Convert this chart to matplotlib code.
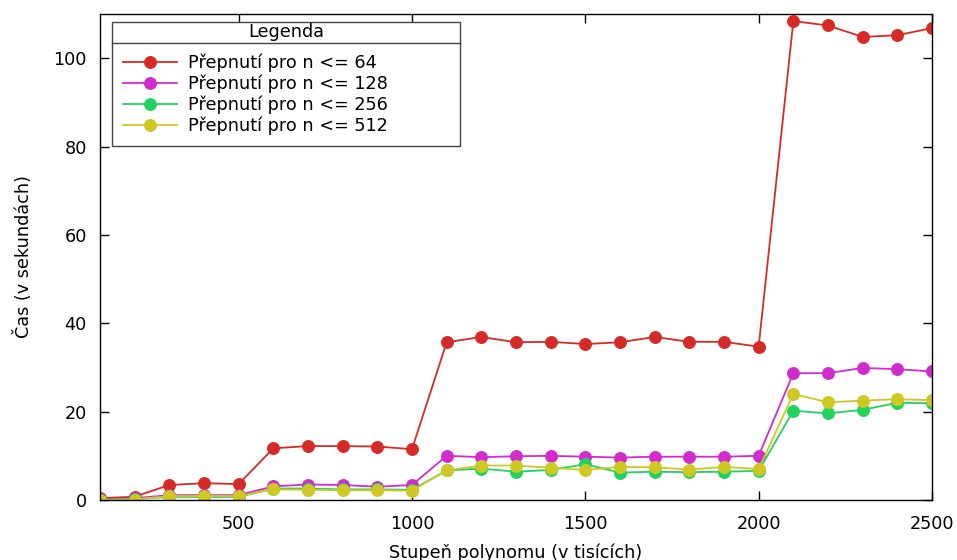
import matplotlib
matplotlib.use("Agg")
import matplotlib.pyplot as plt
from matplotlib.lines import Line2D
from matplotlib.patches import Rectangle

# Degree of the polynomial (thousands)
stupen = [100, 200, 300, 400, 500, 600, 700, 800, 900, 1000,
          1100, 1200, 1300, 1400, 1500, 1600, 1700, 1800, 1900, 2000,
          2100, 2200, 2300, 2400, 2500]

# Runtime in seconds for each switch threshold
cas_64 = [0.4, 0.75, 3.4, 3.8, 3.6, 11.7, 12.2, 12.2, 12.1, 11.5,
          35.7, 36.9, 35.7, 35.8, 35.3, 35.7, 36.9, 35.8, 35.8, 34.7,
          108.4, 107.4, 104.8, 105.2, 106.8]
cas_128 = [0.15, 0.4, 1.1, 1.1, 1.1, 3.1, 3.5, 3.4, 3.0, 3.4,
           10.0, 9.7, 9.9, 10.0, 9.8, 9.6, 9.8, 9.8, 9.8, 10.0,
           28.7, 28.7, 29.9, 29.6, 29.1]
cas_256 = [0.05, 0.2, 0.7, 0.7, 0.7, 2.6, 2.6, 2.4, 2.4, 2.3,
           6.7, 7.1, 6.4, 6.8, 8.1, 6.2, 6.4, 6.3, 6.4, 6.6,
           20.2, 19.6, 20.4, 22.0, 21.9]
cas_512 = [0.0, 0.1, 0.9, 0.9, 0.9, 2.4, 2.3, 2.2, 2.2, 2.1,
           6.7, 7.8, 7.8, 7.3, 6.8, 7.5, 7.4, 6.9, 7.5, 7.0,
           24.0, 22.1, 22.5, 22.8, 22.6]

popisky = ["Přepnutí pro n <= 64", "Přepnutí pro n <= 128",
           "Přepnutí pro n <= 256", "Přepnutí pro n <= 512"]
barvy = ["#d62a26", "#d22bcc", "#22d25e", "#cfc822"]

x_ticks = [500, 1000, 1500, 2000, 2500]
y_ticks = [0, 20, 40, 60, 80, 100]

FS = 12.7
plt.rcParams["font.family"] = ["DejaVu Sans"]
plt.rcParams["font.size"] = FS

W, H = 957, 560
fig = plt.figure(figsize=(W / 100, H / 100), dpi=100)
AX_L, AX_R, AX_T, AX_B = 100, 932, 14, 500
ax = fig.add_axes([AX_L / W, 1 - AX_B / H, (AX_R - AX_L) / W, (AX_B - AX_T) / H])


def ax_frac(px, py):
    """Pixel position (from top-left) to axes fraction."""
    return (px - AX_L) / (AX_R - AX_L), (AX_B - py) / (AX_B - AX_T)


for serie, popisek, barva in zip([cas_64, cas_128, cas_256, cas_512], popisky, barvy):
    ax.plot(stupen, serie, color=barva, lw=1.3, marker="o", ms=8.3,
            mec=barva, mfc=barva, label=popisek)

ax.set_xlim(100, 2500)
ax.set_ylim(0, 110)
ax.set_xticks(x_ticks)
ax.set_yticks(y_ticks)
ax.tick_params(direction="in", length=6.5, width=1, top=True, right=True,
               labelsize=FS)
ax.tick_params(axis="x", pad=10.5)
ax.tick_params(axis="y", pad=9.5)
for s in ax.spines.values():
    s.set_linewidth(1.0)
    s.set_color("black")

ax.set_xlabel("Stupeň polynomu (v tisících)", fontsize=FS, labelpad=7.5)
ax.set_ylabel("Čas (v sekundách)", fontsize=FS, labelpad=15)

# legend box with a title row separated by a rule
bx0, by0 = ax_frac(112, 146)
bx1, by1 = ax_frac(460, 22)
ax.add_patch(Rectangle((bx0, by0), bx1 - bx0, by1 - by0, transform=ax.transAxes,
                       facecolor="white", edgecolor="#444444", lw=1.0, zorder=5))
sx0, sy = ax_frac(112, 43)
ax.add_line(Line2D([bx0, bx1], [sy, sy], transform=ax.transAxes,
                   color="#444444", lw=1.0, zorder=6))

pad_px = 0.6 * FS * 100 / 72
lx0, ly_top = ax_frac(112, 22.8 - pad_px)
leg = ax.legend(title="Legenda", loc="upper left",
                bbox_to_anchor=(lx0, ly_top, bx1 - bx0, 0.0), mode="expand",
                frameon=False, borderaxespad=0, handlelength=3.1,
                handletextpad=0.62, labelspacing=0.14, borderpad=0.6,
                title_fontsize=FS, fontsize=FS)
leg.set_zorder(7)
# extra gap between the title row and the entries
leg._legend_box.sep = 9.0

fig.savefig("out.png", dpi=100)
